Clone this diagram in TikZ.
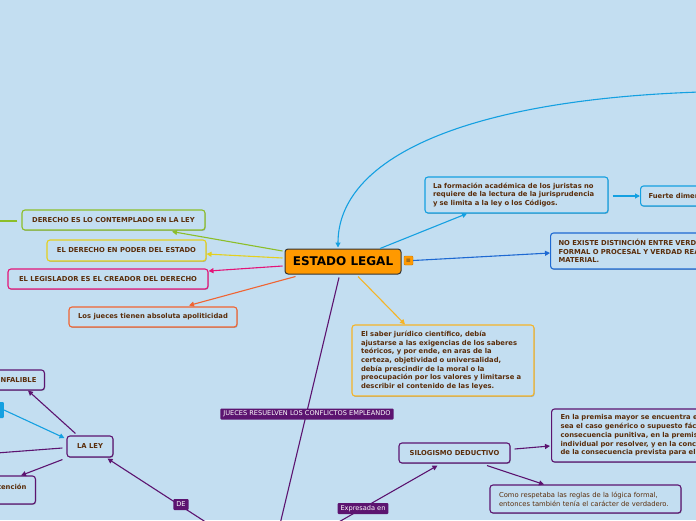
\documentclass[tikz,border=0pt]{standalone}
\usepackage{fontspec}
\setmainfont{DejaVu Sans}
\usetikzlibrary{arrows.meta,calc,shadows}
\definecolor{fondo}{RGB}{195,222,241}
\definecolor{marron}{RGB}{90,45,10}
\definecolor{naranja}{RGB}{255,153,0}
\definecolor{verde}{RGB}{140,190,40}
\definecolor{amarillo}{RGB}{228,208,30}
\definecolor{rosa}{RGB}{228,20,120}
\definecolor{coral}{RGB}{240,100,50}
\definecolor{cielo}{RGB}{20,160,225}
\definecolor{azul}{RGB}{30,105,210}
\definecolor{oro}{RGB}{245,180,40}
\definecolor{morado}{RGB}{92,20,112}

\begin{document}
\begin{tikzpicture}[x=1pt,y=-1pt,
	every node/.style={font=\fontsize{6.8}{8.7}\selectfont\bfseries, text=marron},
	caja/.style={draw=#1, fill=fondo, line width=1.1pt, rounded corners=3pt, inner ysep=0pt,
		drop shadow={shadow xshift=0.7pt, shadow yshift=-0.9pt, opacity=0.25, fill=black}},
	texto/.style={align=left, text width=#1},
	etiqueta/.style={fill=morado, text=white, font=\fontsize{6.6}{7.5}\selectfont, inner xsep=3pt, inner ysep=2pt, rounded corners=1pt, minimum height=11pt},
	flecha/.style={draw=#1, line width=1.1pt, -{Triangle[length=5pt,width=5pt]}},
	linea/.style={draw=#1, line width=1.1pt}]
	\useasboundingbox (0,0) rectangle (696,520);
	\clip (0,0) rectangle (696,520);
	\fill[fondo] (0,0) rectangle (696,520);

	\node[draw=black!80, fill=naranja, line width=1pt, rounded corners=3pt, minimum width=116pt, minimum height=25pt, inner sep=0pt, font=\fontsize{12}{14}\selectfont\bfseries, text=black] (legal) at (343,261.5) {ESTADO LEGAL};
	\node[fill=naranja, draw=naranja!80!black, line width=0.4pt, rounded corners=1pt, minimum size=9pt, inner sep=0pt, font=\fontsize{6}{6}\selectfont, text=black!80] (icono) at (408.5,260.5) {≡};

	\node[caja=verde, minimum width=183pt, minimum height=20pt] (contemplado) at (113.5,220) {DERECHO ES LO CONTEMPLADO EN LA LEY};
	\node[caja=amarillo, minimum width=159pt, minimum height=21pt] (poder) at (126.5,250.5) {EL DERECHO EN PODER DEL ESTADO};
	\node[caja=rosa, minimum width=200pt, minimum height=20pt] (legislador) at (108,279) {EL LEGISLADOR ES EL CREADOR DEL DERECHO};
	\node[caja=coral, minimum width=168pt, minimum height=20pt] (apoliticidad) at (153,317) {Los jueces tienen absoluta apoliticidad};

	\node[caja=cielo, minimum width=183pt, minimum height=36pt, inner xsep=8pt, texto=167pt] (formacion) at (516.5,195) {La formación académica de los juristas no\\ requiere de la lectura de la jurisprudencia\\ y se limita a la ley o los Códigos.};
	\node[caja=cielo, anchor=west, minimum height=20pt, inner xsep=8pt] (fuerte) at (640,196) {Fuerte dimensión};
	\node[caja=azul, anchor=west, minimum width=200pt, minimum height=36pt, inner xsep=8pt, texto=184pt] (verdad) at (550,251) {NO EXISTE DISTINCIÓN ENTRE VERDAD\\ FORMAL O PROCESAL Y VERDAD REAL O\\ MATERIAL.};
	\node[caja=oro, minimum width=182pt, minimum height=71pt, inner xsep=9pt, texto=164pt] (saber) at (443,360.5) {El saber jurídico científico, debía\\ ajustarse a las exigencias de los saberes\\ teóricos, y por ende, en aras de la\\ certeza, objetividad o universalidad,\\ debía prescindir de la moral o la\\ preocupación por los valores y limitarse a\\ describir el contenido de las leyes.};

	\node[caja=morado, minimum width=111pt, minimum height=20pt] (silogismo) at (454.5,453) {SILOGISMO DEDUCTIVO};
	\node[caja=morado, anchor=west, minimum width=220pt, minimum height=53pt, inner xsep=9pt, texto=202pt] (premisa) at (551,435.5) {En la premisa mayor se encuentra el\\ sea el caso genérico o supuesto fáctico\\ consecuencia punitiva, en la premisa\\ individual por resolver, y en la conclusión\\ de la consecuencia prevista para el caso};
	\node[caja=morado, minimum width=191pt, minimum height=28pt, inner xsep=9pt, texto=173pt, font=\fontsize{6.8}{8.7}\selectfont] (respetaba) at (585.5,499) {Como respetaba las reglas de la lógica formal,\\ entonces también tenía el carácter de verdadero.};

	\node[caja=morado, minimum width=46pt, minimum height=21pt] (ley) at (90,446.5) {LA LEY};
	\node[caja=morado, anchor=east, minimum height=20pt, inner xsep=8pt] (infalible) at (45,380) {INFALIBLE};
	\node[caja=morado, anchor=east, minimum height=28pt, inner xsep=9pt, text depth=6pt] (intencion) at (36,490) {Intención};
	\node[fill=cielo, rounded corners=1pt, anchor=east, minimum width=30pt, minimum height=16pt] (celeste) at (4,410) {};

	\coordinate (origen) at (700,92);
	\coordinate (bajo1) at (276,541);
	\coordinate (bajo2) at (218,530);
	\coordinate (bajo3) at (330,527);
	\coordinate (izq1) at (-30,221);
	\coordinate (izq2) at (-30,455);

	\draw[flecha=cielo] (origen) .. controls (460,100) and (338,160) .. ($(legal.north)+(-5,-1)$);
	\draw[flecha=verde] ($(legal.west)+(-2,-10.5)$) -- ($(contemplado.south)+(58.5,1)$);
	\draw[linea=verde] ($(contemplado.west)+(-4,1)$) -- (izq1);
	\draw[flecha=amarillo] ($(legal.west)+(-2,-3.5)$) -- ($(poder.east)+(0,3.5)$);
	\draw[flecha=rosa] ($(legal.west)+(-2,4.5)$) -- ($(legislador.east)+(0,-8)$);
	\draw[flecha=coral] ($(legal.south west)+(11,2)$) -- ($(apoliticidad.north)+(36,-1)$);
	\draw[flecha=cielo] ($(legal.north)+(37,0)$) -- ($(formacion.south)+(-49.5,0)$);
	\draw[flecha=cielo] ($(formacion.east)+(4,1)$) -- (fuerte.west);
	\draw[flecha=azul] (icono.east) -- ($(verdad.west)+(0,2)$);
	\draw[flecha=oro] ($(legal.south)+(15,2)$) -- ($(saber.north)+(-38,0)$);
	\draw[linea=morado] ($(legal.south)+(-4,3)$) -- (bajo1);

	\draw[flecha=morado] (bajo3) -- ($(silogismo.south)+(-17,2)$);
	\draw[flecha=morado] ($(silogismo.east)+(4,-4)$) -- ($(premisa.west)+(-1,10.5)$);
	\draw[flecha=morado] ($(silogismo.south)+(32.5,2)$) -- ($(respetaba.north)+(-41.5,0)$);

	\draw[flecha=morado] (bajo2) -- ($(ley.south east)+(-6,1)$);
	\draw[flecha=morado] ($(ley.north west)+(9,-2)$) -- ($(infalible.south east)+(-17,0)$);
	\draw[flecha=cielo] (celeste.east) -- ($(ley.west)+(-2,-8.5)$);
	\draw[linea=morado] ($(ley.west)+(-4,1.5)$) -- (izq2);
	\draw[flecha=morado] ($(ley.south west)+(-4,2)$) -- ($(intencion.north east)+(-15,0)$);

	\node[etiqueta] (emplea) at (307,414) {JUECES RESUELVEN LOS CONFLICTOS EMPLEANDO};
	\node[etiqueta] (de) at (181,504.5) {DE};
	\node[etiqueta] (expresada) at (363,508.5) {Expresada en};
\end{tikzpicture}
\end{document}
